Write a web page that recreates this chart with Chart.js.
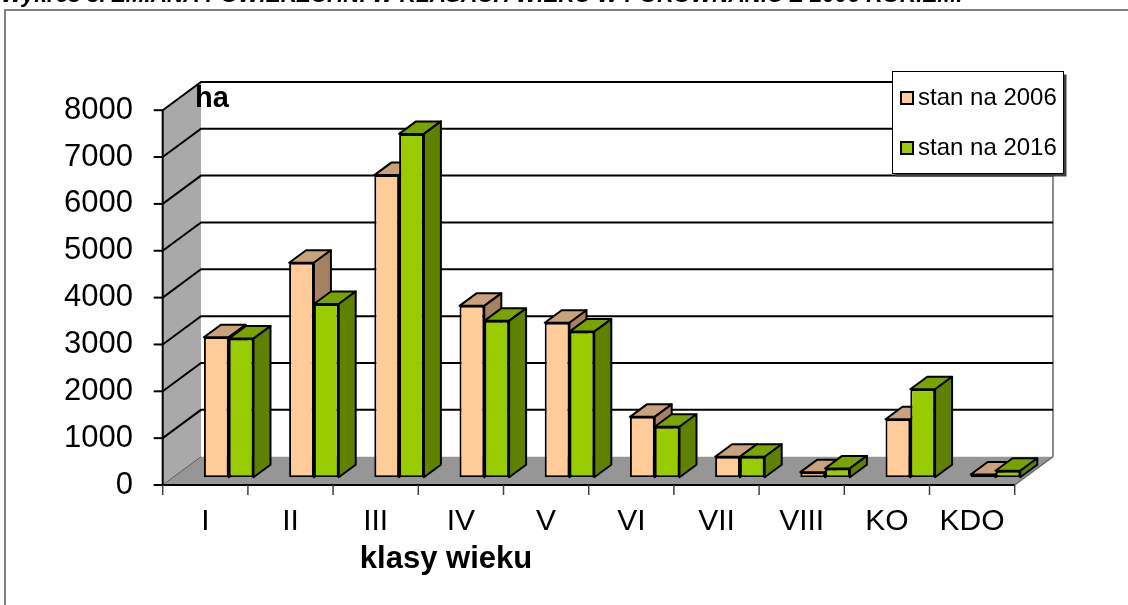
<!DOCTYPE html>
<html><head><meta charset="utf-8">
<script src="https://cdn.jsdelivr.net/npm/chart.js@4.4.0/dist/chart.umd.min.js"></script>
<style>html,body{margin:0;padding:0;background:#fff;overflow:hidden}#wrap{position:relative;width:1128px;height:605px}</style>
</head><body><div id="wrap"><canvas id="c" width="1128" height="605"></canvas></div>
<script>
// ---- data ----
const categories = ['I', 'II', 'III', 'IV', 'V', 'VI', 'VII', 'VIII', 'KO', 'KDO'];
const values2006 = [2990, 4580, 6450, 3660, 3300, 1290, 440, 110, 1240, 60];
const values2016 = [2960, 3700, 7330, 3340, 3110, 1080, 440, 190, 1880, 140];
const seriesLabels = ['stan na 2006', 'stan na 2016'];
const yMin = 0, yMax = 8000, yStep = 1000;
const unitLabel = 'ha';
const xAxisTitle = 'klasy wieku';
const chartTitle = 'Wykres 3. ZMIANA POWIERZCHNI W KLASACH WIEKU W PORÓWNANIU Z 2006 ROKIEM.';

// ---- styling ----
const FONT = '"Liberation Sans", Arial, sans-serif';
const frontColors = ['#FFCC99', '#99CC00'];
const topColors = ['#C9A17A', '#79A300'];
const sideColors = ['#A68262', '#608000'];
const FRONT = {dx: -23.4, dy: 7.7};   // bar plane -> front plane
const BACK = {dx: 14.9, dy: -20.6};   // bar plane -> back wall
const DEPTH = {dx: 17, dy: -12.5};    // bar depth

function poly(ctx, pts, fill, stroke, lw) {
  ctx.beginPath();
  ctx.moveTo(pts[0][0], pts[0][1]);
  for (let i = 1; i < pts.length; i++) ctx.lineTo(pts[i][0], pts[i][1]);
  ctx.closePath();
  if (fill) { ctx.fillStyle = fill; ctx.fill(); }
  if (stroke) { ctx.strokeStyle = stroke; ctx.lineWidth = lw || 2; ctx.stroke(); }
}

const scene3d = {
  id: 'scene3d',
  beforeDraw(chart) {
    const ctx = chart.ctx, xs = chart.scales.x, ys = chart.scales.y;
    const L = xs.left, R = xs.right;
    const y0 = ys.getPixelForValue(yMin), yT = ys.getPixelForValue(yMax);
    ctx.save();
    ctx.fillStyle = '#fff'; ctx.fillRect(0, 0, chart.width, chart.height);
    // outer frame
    ctx.strokeStyle = '#7f7f7f'; ctx.lineWidth = 2;
    ctx.strokeRect(5, 10, chart.width + 10, chart.height + 10);
    // back wall
    poly(ctx, [[L + BACK.dx, yT + BACK.dy], [R + BACK.dx, yT + BACK.dy], [R + BACK.dx, y0 + BACK.dy], [L + BACK.dx, y0 + BACK.dy]], '#ffffff');
    // left wall
    poly(ctx, [[L + FRONT.dx, y0 + FRONT.dy], [L + FRONT.dx, yT + FRONT.dy], [L + BACK.dx, yT + BACK.dy], [L + BACK.dx, y0 + BACK.dy]], '#A9A9A9');
    // right edge of back wall
    ctx.strokeStyle = '#8c8c8c'; ctx.lineWidth = 2;
    ctx.beginPath(); ctx.moveTo(R + BACK.dx, yT + BACK.dy); ctx.lineTo(R + BACK.dx, y0 + BACK.dy); ctx.stroke();
    // gridlines
    ctx.strokeStyle = '#000'; ctx.lineWidth = 2;
    for (let v = yMin + yStep; v <= yMax; v += yStep) {
      const p = ys.getPixelForValue(v);
      ctx.beginPath();
      ctx.moveTo(L + FRONT.dx, p + FRONT.dy);
      ctx.lineTo(L + BACK.dx, p + BACK.dy);
      ctx.lineTo(R + BACK.dx, p + BACK.dy);
      ctx.stroke();
    }
    // floor
    poly(ctx, [[L + FRONT.dx, y0 + FRONT.dy], [R + FRONT.dx, y0 + FRONT.dy], [R + BACK.dx, y0 + BACK.dy], [L + BACK.dx, y0 + BACK.dy]], '#969696');
    ctx.strokeStyle = '#5a5a5a'; ctx.lineWidth = 1;
    ctx.beginPath(); ctx.moveTo(L + FRONT.dx, y0 + FRONT.dy); ctx.lineTo(L + BACK.dx, y0 + BACK.dy); ctx.stroke();
    ctx.strokeStyle = '#6a6a6a'; ctx.lineWidth = 1.5;
    ctx.beginPath(); ctx.moveTo(R + FRONT.dx, y0 + FRONT.dy); ctx.lineTo(R + BACK.dx, y0 + BACK.dy); ctx.stroke();
    // front value axis
    ctx.strokeStyle = '#000'; ctx.lineWidth = 2;
    ctx.beginPath(); ctx.moveTo(L + FRONT.dx, yT + FRONT.dy); ctx.lineTo(L + FRONT.dx, y0 + FRONT.dy + 1); ctx.stroke();
    for (let v = yMin; v <= yMax; v += yStep) {
      const p = ys.getPixelForValue(v) + FRONT.dy;
      ctx.beginPath(); ctx.moveTo(L + FRONT.dx - 9, p); ctx.lineTo(L + FRONT.dx, p); ctx.stroke();
    }
    // front category axis
    ctx.beginPath(); ctx.moveTo(L + FRONT.dx, y0 + FRONT.dy); ctx.lineTo(R + FRONT.dx, y0 + FRONT.dy); ctx.stroke();
    const cw = (R - L) / categories.length;
    ctx.strokeStyle = '#404040'; ctx.lineWidth = 1.5;
    for (let i = 0; i <= categories.length; i++) {
      const x = (i < categories.length ? xs.getPixelForValue(i) - cw / 2 : xs.getPixelForValue(i - 1) + cw / 2) + FRONT.dx;
      ctx.beginPath(); ctx.moveTo(x, y0 + FRONT.dy); ctx.lineTo(x, y0 + FRONT.dy + 10); ctx.stroke();
    }
    ctx.restore();
  },
  beforeDatasetsDraw(chart) {
    const ctx = chart.ctx;
    ctx.save();
    ctx.lineJoin = 'round';
    for (let i = 0; i < categories.length; i++) {
      for (let d = 0; d < chart.data.datasets.length; d++) {
        const el = chart.getDatasetMeta(d).data[i];
        const {x, y, base, width} = el.getProps(['x', 'y', 'base', 'width'], true);
        const l = x - width / 2, r = x + width / 2;
        poly(ctx, [[l, y], [r, y], [r + DEPTH.dx, y + DEPTH.dy], [l + DEPTH.dx, y + DEPTH.dy]], topColors[d], '#000', 2);
        poly(ctx, [[r, y], [r + DEPTH.dx, y + DEPTH.dy], [r + DEPTH.dx, base + DEPTH.dy], [r, base]], sideColors[d], '#000', 2);
      }
    }
    ctx.restore();
  },
  afterDraw(chart) {
    const ctx = chart.ctx, xs = chart.scales.x;
    ctx.save();
    ctx.fillStyle = '#000';
    ctx.textBaseline = 'alphabetic';
    // unit label
    ctx.font = 'bold 29px ' + FONT;
    ctx.textAlign = 'left';
    ctx.fillText(unitLabel, xs.left + BACK.dx - 6, 106.5);
    // x axis title
    ctx.font = 'bold 31px ' + FONT;
    ctx.textAlign = 'center';
    ctx.fillText(xAxisTitle, 446, 568);
    // chart title (cut off at the top)
    ctx.font = 'bold italic 20px ' + FONT;
    const w = ctx.measureText(chartTitle).width;
    const fs = 20 * 962 / w;
    ctx.font = 'bold italic ' + fs.toFixed(2) + 'px ' + FONT;
    ctx.textAlign = 'left';
    ctx.fillText(chartTitle, 1, 2);
    // legend
    const bx = 892.5, by = 71.5, bw = 171, bh = 102;
    ctx.fillStyle = '#404040'; ctx.fillRect(bx + 3, by + 3, bw, bh);
    ctx.fillStyle = '#fff'; ctx.fillRect(bx, by, bw, bh);
    ctx.strokeStyle = '#000'; ctx.lineWidth = 1; ctx.strokeRect(bx, by, bw, bh);
    ctx.font = '24px ' + FONT;
    ctx.textAlign = 'left';
    chart.data.datasets.forEach((ds, d) => {
      const ty = 105 + d * 50;
      ctx.fillStyle = ds.backgroundColor;
      ctx.fillRect(901, ty - 13, 12, 12);
      ctx.strokeStyle = '#000'; ctx.lineWidth = 2;
      ctx.strokeRect(901, ty - 13, 12, 12);
      ctx.fillStyle = '#000';
      ctx.fillText(ds.label, 918, ty);
    });
    ctx.restore();
  }
};

new Chart(document.getElementById('c'), {
  type: 'bar',
  data: {
    labels: categories,
    datasets: [
      {label: seriesLabels[0], data: values2006, backgroundColor: frontColors[0], borderColor: '#000', borderWidth: 2, borderSkipped: false, barPercentage: 1, categoryPercentage: 0.582},
      {label: seriesLabels[1], data: values2016, backgroundColor: frontColors[1], borderColor: '#000', borderWidth: 2, borderSkipped: false, barPercentage: 1, categoryPercentage: 0.582}
    ]
  },
  options: {
    responsive: false,
    animation: false,
    devicePixelRatio: 1,
    layout: {padding: {left: 0, right: 89.9, top: 102.5, bottom: 0}},
    plugins: {legend: {display: false}, tooltip: {enabled: false}, title: {display: false}},
    scales: {
      x: {
        grid: {display: false, drawTicks: false},
        border: {display: false},
        ticks: {color: '#000', font: {family: FONT, size: 30, lineHeight: 1.2}, padding: 26.7, labelOffset: FRONT.dx, maxRotation: 0, autoSkip: false},
        afterFit(s) { s.height = 127.7; }
      },
      y: {
        min: yMin, max: yMax,
        grid: {display: false, drawTicks: false},
        border: {display: false},
        ticks: {stepSize: yStep, color: '#000', font: {family: FONT, size: 31}, padding: 53.1, labelOffset: FRONT.dy, callback: v => String(v)},
        afterFit(s) { s.width = 186.1; }
      }
    }
  },
  plugins: [scene3d]
});
</script>
</body></html>
